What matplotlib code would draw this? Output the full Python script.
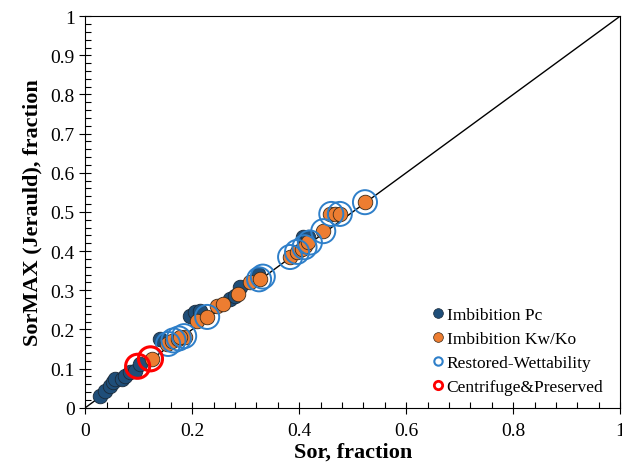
import numpy as np
import matplotlib
matplotlib.use("Agg")
import matplotlib.pyplot as plt
from matplotlib.lines import Line2D
from matplotlib.ticker import MultipleLocator

plt.rcParams['font.family'] = ['Liberation Serif', 'DejaVu Serif']

# Imbibition Pc (dark blue filled)
pc_x = [0.028, 0.037, 0.047, 0.052, 0.056, 0.069, 0.075, 0.084, 0.093, 0.103,
        0.14, 0.196, 0.206, 0.215, 0.271, 0.28, 0.29, 0.323, 0.408, 0.417]
pc_y = [0.031, 0.043, 0.056, 0.066, 0.074, 0.074, 0.082, 0.092, 0.094, 0.112,
        0.176, 0.235, 0.245, 0.248, 0.278, 0.286, 0.309, 0.342, 0.436, 0.436]

# Imbibition Kw/Ko (orange filled)
kw_x = [0.125, 0.153, 0.163, 0.174, 0.187, 0.178, 0.209, 0.228, 0.247, 0.258,
        0.286, 0.308, 0.327, 0.383, 0.396, 0.405, 0.411, 0.417, 0.445,
        0.458, 0.467, 0.477, 0.523]
kw_y = [0.125, 0.163, 0.171, 0.176, 0.181, 0.181, 0.222, 0.232, 0.26, 0.265,
        0.291, 0.321, 0.329, 0.385, 0.398, 0.406, 0.413, 0.423, 0.451,
        0.495, 0.495, 0.495, 0.525]

# Restored-Wettability (blue open circles)
rw_x = [0.155, 0.165, 0.175, 0.185, 0.228, 0.325, 0.332, 0.383, 0.396, 0.41,
        0.42, 0.445, 0.46, 0.476, 0.523]
rw_y = [0.163, 0.172, 0.177, 0.183, 0.232, 0.328, 0.335, 0.385, 0.398, 0.41,
        0.422, 0.451, 0.495, 0.495, 0.525]

# Centrifuge&Preserved (red open circles)
cp_x = [0.098, 0.122]
cp_y = [0.106, 0.125]

x_ticks = [0, 0.2, 0.4, 0.6, 0.8, 1]
x_labels = ['0', '0.2', '0.4', '0.6', '0.8', '1']
y_ticks = [0, 0.1, 0.2, 0.3, 0.4, 0.5, 0.6, 0.7, 0.8, 0.9, 1]
y_labels = ['0', '0.1', '0.2', '0.3', '0.4', '0.5', '0.6', '0.7', '0.8', '0.9', '1']

c_pc = '#1f4e79'
c_kw = '#ed7d31'
c_rw = '#2e7fc9'
c_cp = '#ff0000'

fig = plt.figure(figsize=(6.22, 4.77), dpi=100)
ax = fig.add_axes([0.137, 0.143, 0.860, 0.821])

# 1:1 line
ax.plot([0, 1], [0, 1], color='black', lw=1.0, zorder=1)

ax.scatter(pc_x, pc_y, s=110, color=c_pc, edgecolors='#1a2a3a', linewidths=0.6, zorder=3)
ax.scatter(kw_x, kw_y, s=110, color=c_kw, edgecolors='#3a2a1a', linewidths=0.6, zorder=4)
ax.scatter(rw_x, rw_y, s=300, facecolors='none', edgecolors=c_rw, linewidths=1.4, zorder=5)
ax.scatter(cp_x, cp_y, s=300, facecolors='none', edgecolors=c_cp, linewidths=2.2, zorder=6)

ax.set_xlim(0, 1)
ax.set_ylim(0, 1)
ax.set_xticks(x_ticks)
ax.set_xticklabels(x_labels)
ax.set_yticks(y_ticks)
ax.set_yticklabels(y_labels)
ax.xaxis.set_minor_locator(MultipleLocator(0.04))
ax.yaxis.set_minor_locator(MultipleLocator(0.02))
ax.tick_params(which='major', direction='inout', length=8, width=0.8, labelsize=14)
ax.tick_params(which='minor', direction='in', length=4, width=0.8)
ax.tick_params(axis='x', pad=6)

ax.set_xlabel('Sor, fraction', fontsize=16, fontweight='bold', labelpad=2)
ax.set_ylabel('SorMAX (Jerauld), fraction', fontsize=16, fontweight='bold', labelpad=6)

handles = [
    Line2D([], [], ls='none', marker='o', ms=7, mfc=c_pc, mec='#1a2a3a', mew=0.5),
    Line2D([], [], ls='none', marker='o', ms=7, mfc=c_kw, mec='#3a2a1a', mew=0.5),
    Line2D([], [], ls='none', marker='o', ms=6, mfc='none', mec=c_rw, mew=1.5),
    Line2D([], [], ls='none', marker='o', ms=6, mfc='none', mec=c_cp, mew=2.0),
]
labels = ['Imbibition Pc', 'Imbibition Kw/Ko', 'Restored-Wettability', 'Centrifuge&Preserved']
ax.legend(handles, labels, loc='lower right', bbox_to_anchor=(0.985, 0.01), frameon=False,
          fontsize=12.5, handlelength=0.6, handletextpad=0.2, labelspacing=0.45, borderpad=0)

fig.savefig('out.png', dpi=100)
